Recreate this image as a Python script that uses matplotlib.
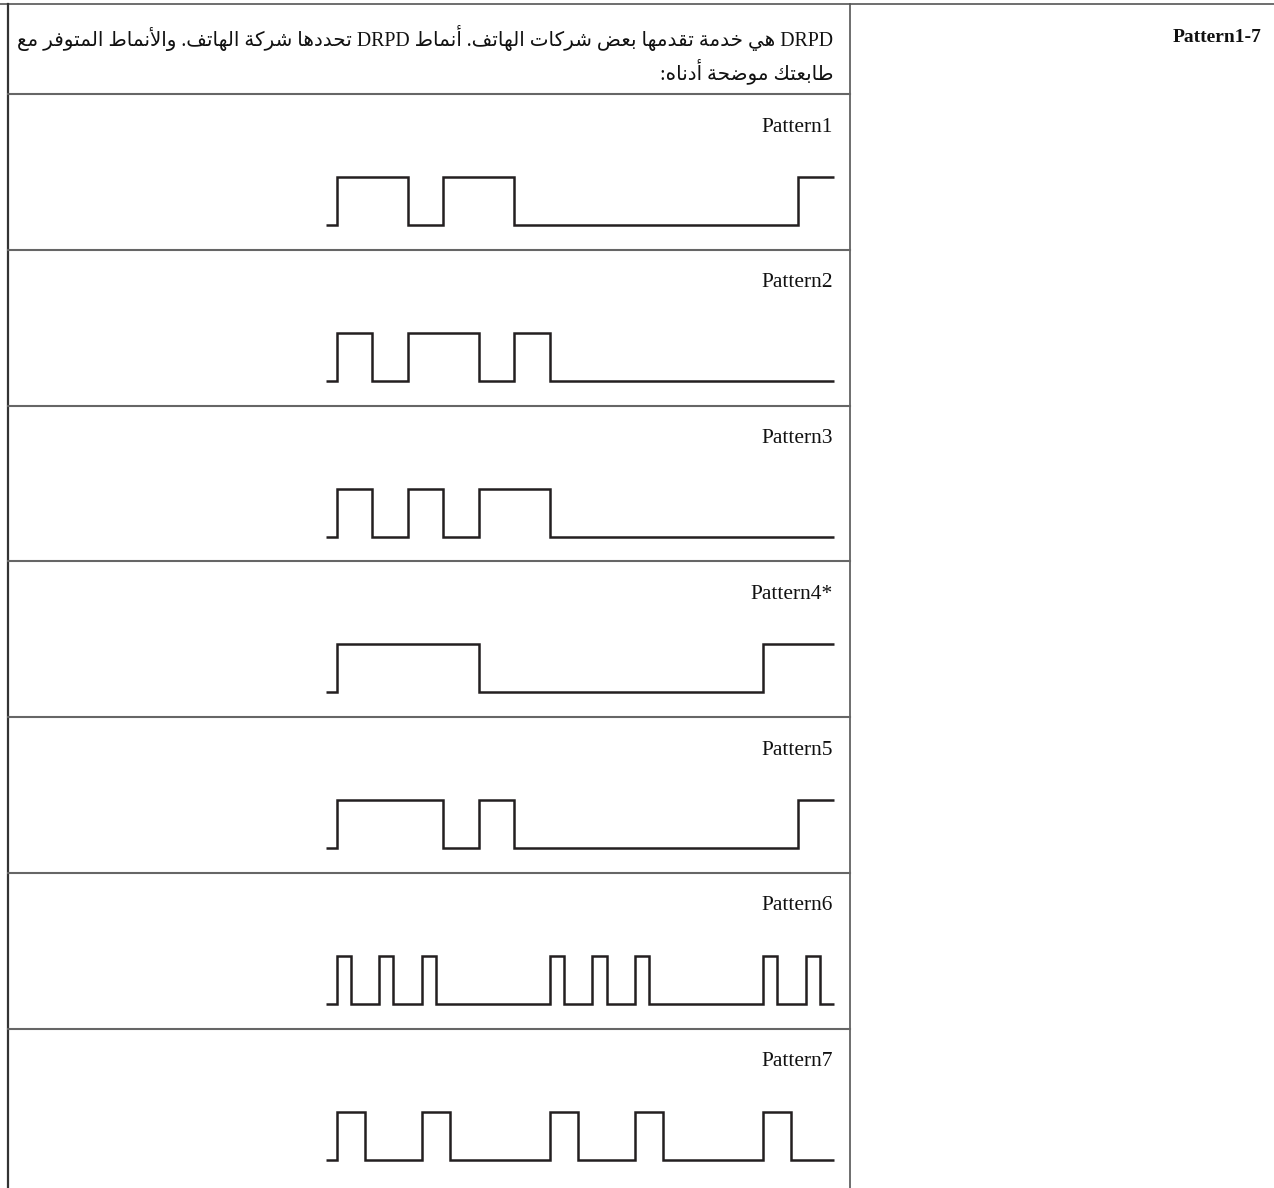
import re
import matplotlib
matplotlib.use('Agg')
import matplotlib.pyplot as plt

# Texts
header_lines = ['DRPD هي خدمة تقدمها بعض شركات الهاتف. أنماط DRPD تحددها شركة الهاتف. والأنماط المتوفر مع',
                'طابعتك موضحة أدناه:']
side_title = 'Pattern1-7'
pattern_names = ['Pattern1', 'Pattern2', 'Pattern3', 'Pattern4*', 'Pattern5', 'Pattern6', 'Pattern7']

# Ring patterns: times where the signal toggles (starts low)
pattern1 = [0, 2, 3, 5, 13]
pattern2 = [0, 1, 2, 4, 5, 6]
pattern3 = [0, 1, 2, 3, 4, 6]
pattern4 = [0, 4, 12]
pattern5 = [0, 3, 4, 5, 13]
pattern6 = [0, 0.4, 1.2, 1.6, 2.4, 2.8, 6, 6.4, 7.2, 7.6, 8.4, 8.8, 12, 12.4, 13.2, 13.6]
pattern7 = [0, 0.8, 2.4, 3.2, 6, 6.8, 8.4, 9.2, 12, 12.8]
patterns = [pattern1, pattern2, pattern3, pattern4, pattern5, pattern6, pattern7]
t_start, t_end = -0.3, 14

# Arabic presentation forms: isolated code point, number of forms (2 = right joining, 4 = dual)
FORMS = {
    'ا': (0xFE8D, 2), 'أ': (0xFE83, 2), 'ب': (0xFE8F, 4), 'ة': (0xFE93, 2),
    'ت': (0xFE95, 4), 'ح': (0xFEA1, 4), 'خ': (0xFEA5, 4), 'د': (0xFEA9, 2),
    'ر': (0xFEAD, 2), 'ش': (0xFEB5, 4), 'ض': (0xFEBD, 4), 'ط': (0xFEC1, 4),
    'ع': (0xFEC9, 4), 'ف': (0xFED1, 4), 'ق': (0xFED5, 4), 'ك': (0xFED9, 4),
    'ل': (0xFEDD, 4), 'م': (0xFEE1, 4), 'ن': (0xFEE5, 4), 'ه': (0xFEE9, 4),
    'و': (0xFEED, 2), 'ي': (0xFEF1, 4),
}
LAM_ALEF = {'ا': 0xFEFB, 'أ': 0xFEF7}


def shape(text):
    units = []
    i = 0
    while i < len(text):
        if text[i] == 'ل' and i + 1 < len(text) and text[i + 1] in LAM_ALEF:
            units.append(('LA', LAM_ALEF[text[i + 1]]))
            i += 2
        else:
            units.append((text[i], None))
            i += 1

    def joins_next(u):
        return u[0] in FORMS and FORMS[u[0]][1] == 4

    def is_letter(u):
        return u[0] == 'LA' or u[0] in FORMS

    out = ''
    for k, u in enumerate(units):
        prev_j = k > 0 and joins_next(units[k - 1])
        if u[0] == 'LA':
            out += chr(u[1] + (1 if prev_j else 0))
            continue
        if u[0] not in FORMS:
            out += u[0]
            continue
        base, n = FORMS[u[0]]
        next_j = n == 4 and k + 1 < len(units) and is_letter(units[k + 1])
        if prev_j and next_j:
            form = 3
        elif prev_j:
            form = 1
        elif next_j:
            form = 2
        else:
            form = 0
        out += chr(base + form)
    return out


def visual(text):
    # right-to-left paragraph, keep latin runs left-to-right
    s = shape(text)[::-1]
    return re.sub(r'[A-Za-z0-9]+', lambda m: m.group(0)[::-1], s)


def wave(edges):
    t, v, level = [t_start], [0], 0
    for e in edges:
        t += [e, e]
        v += [level, 1 - level]
        level = 1 - level
    t.append(t_end)
    v.append(level)
    return t, v


W, H = 1274, 1188
fig = plt.figure(figsize=(W / 100, H / 100), dpi=100)
ax = fig.add_axes([0, 0, 1, 1])
ax.set_xlim(0, W)
ax.set_ylim(H, 0)
ax.axis('off')

serif = ['Liberation Serif', 'DejaVu Sans']
line_col = '#666666'

# table grid
left_x, mid_x, top_y = 8, 850, 4
header_bottom, row_h = 94, 155.8
ax.plot([0, W], [top_y, top_y], color='#555555', lw=1.2)
ax.plot([left_x, left_x], [top_y, H], color='#333333', lw=1.6)
ax.plot([mid_x, mid_x], [top_y, H], color='#555555', lw=1.2)
for i in range(len(patterns)):
    y = header_bottom + i * row_h
    ax.plot([left_x, mid_x], [y, y], color=line_col, lw=1.5)

# side title
ax.text(1262, 38, side_title, ha='right', va='center', fontsize=14, fontweight='bold',
        family=serif, color='#111111')

# header text, sized to fit the cell width
t1 = ax.text(833, 38, visual(header_lines[0]), ha='right', va='center', fontsize=14,
             family=serif, color='#111111')
fig.canvas.draw()
bb = t1.get_window_extent()
fs = 14 * 818 / bb.width
t1.set_fontsize(fs)
ax.text(833, 71, visual(header_lines[1]), ha='right', va='center', fontsize=fs,
        family=serif, color='#111111')

# pattern rows
x0, x1 = 326, 834
for i, (name, edges) in enumerate(zip(pattern_names, patterns)):
    top = header_bottom + i * row_h
    ax.text(833, top + 33, name, ha='right', va='center', fontsize=15.5,
            family=serif, color='#111111')
    hi, lo = top + 83, top + 131
    wax = fig.add_axes([x0 / W, 1 - lo / H, (x1 - x0) / W, (lo - hi) / H])
    t, v = wave(edges)
    wax.plot(t, v, color='#231f20', lw=1.8, clip_on=False,
             solid_joinstyle='miter', solid_capstyle='butt')
    wax.set_xlim(t_start, t_end)
    wax.set_ylim(0, 1)
    wax.axis('off')

fig.savefig('out.png', dpi=100)
